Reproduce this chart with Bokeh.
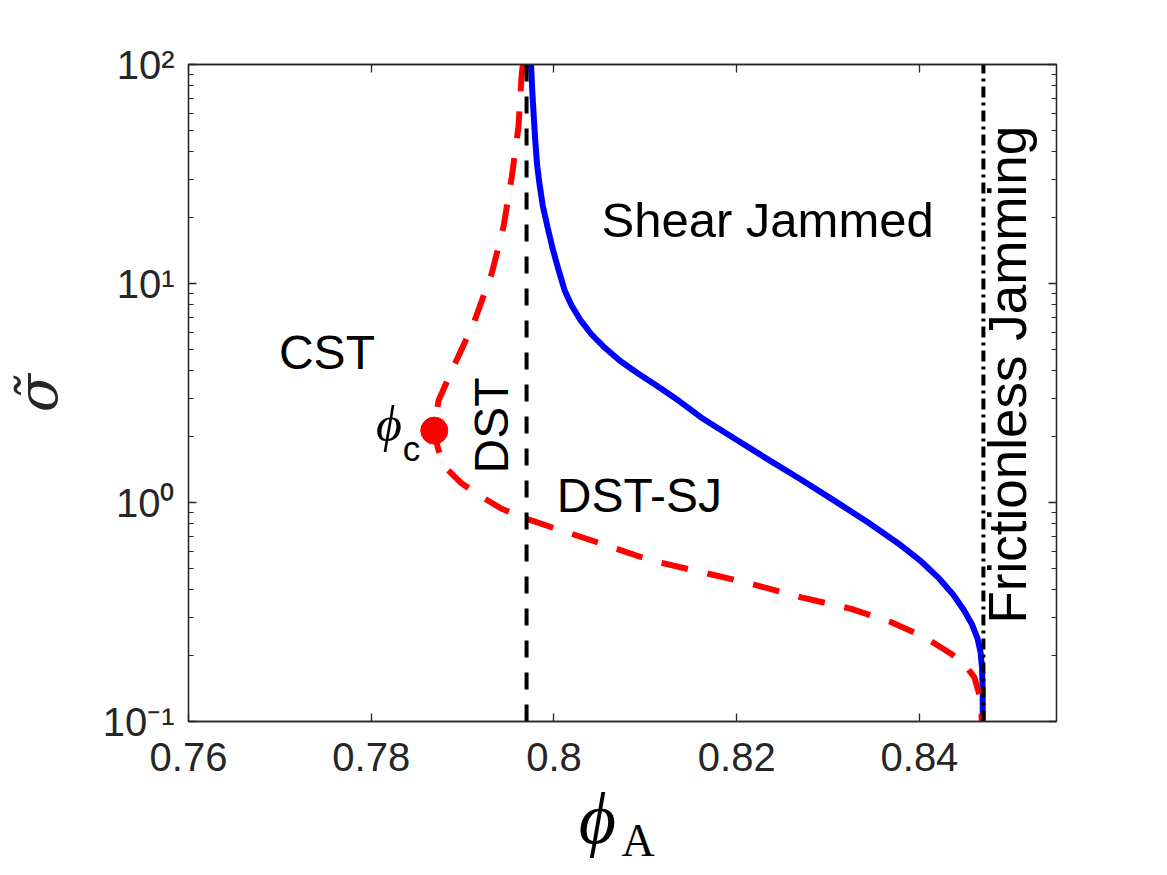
import numpy as np
from bokeh.plotting import figure
from bokeh.models import Range1d, FixedTicker, LinearAxis, LogAxis, Label
from bokeh.embed import file_html
from bokeh.resources import INLINE

# ---- data ----
# Shear-jamming boundary (solid blue)
sj_phi = [0.79749, 0.79762, 0.79778, 0.79795, 0.79816, 0.79844, 0.79877, 0.79931,
          0.79986, 0.80051, 0.80117, 0.80193, 0.80292, 0.80412, 0.80554, 0.80718,
          0.80904, 0.81122, 0.81363, 0.81614, 0.81975, 0.82346, 0.82707, 0.83068,
          0.83439, 0.83800, 0.84019, 0.84215, 0.84368, 0.84489, 0.84576, 0.84636,
          0.84669, 0.84685, 0.84692, 0.84693]
sj_sigma = [100, 76.1, 58.5, 45.0, 34.6, 28.0, 22.7, 18.0,
            14.4, 11.5, 9.29, 7.93, 6.78, 5.85, 5.10, 4.45,
            3.92, 3.42, 2.92, 2.44, 1.96, 1.57, 1.27, 1.02,
            0.810, 0.636, 0.538, 0.450, 0.380, 0.321, 0.277, 0.239,
            0.207, 0.175, 0.138, 0.101]

# DST boundary (dashed red)
dst_phi = [0.79660, 0.79647, 0.79611, 0.79538, 0.79447, 0.79319, 0.79119, 0.78882,
           0.78737, 0.78682, 0.78737, 0.78809, 0.78991, 0.79210, 0.79428, 0.79702,
           0.79975, 0.80522, 0.81068, 0.81615, 0.82161, 0.82707, 0.83254, 0.83691,
           0.84055, 0.84346, 0.84492, 0.84601, 0.84674, 0.84682]
dst_sigma = [100, 90.7, 51.7, 30.6, 18.1, 11.1, 6.55, 4.01,
             2.92, 2.13, 1.73, 1.45, 1.22, 1.06, 0.936, 0.842,
             0.771, 0.648, 0.543, 0.481, 0.425, 0.369, 0.327, 0.284,
             0.243, 0.204, 0.183, 0.159, 0.125, 0.100]

# critical point
phi_c = [0.7869]
sigma_c = [2.13]

# vertical lines
phi_mu = [0.797, 0.797]          # frictional jamming (dashed black)
phi_0 = [0.847, 0.847]           # frictionless jamming (dash-dot black)
vert_sigma = [0.1, 100]

x_ticks = [0.76, 0.78, 0.80, 0.82, 0.84]
x_tick_labels = ["0.76", "0.78", "0.8", "0.82", "0.84"]
y_ticks = [0.1, 1, 10, 100]
y_tick_labels = ["10\u207b\u00b9", "10\u2070", "10\u00b9", "10\u00b2"]

AX = "#262626"
SANS = "Liberation Sans"
SERIF = "Liberation Serif"

p = figure(width=1167, height=875,
           x_range=Range1d(0.76, 0.855), y_range=Range1d(0.1, 100),
           y_axis_type="log", output_backend="svg", toolbar_location=None,
           min_border_left=188, min_border_right=111,
           min_border_top=64, min_border_bottom=154)
p.background_fill_color = "white"
p.border_fill_color = "white"
p.outline_line_color = AX
p.outline_line_width = 1.3
p.grid.visible = False

minor_y = [m * 10.0 ** e for e in (-1, 0, 1) for m in range(2, 10)]


def style_axis(ax):
    ax.axis_line_color = AX
    ax.axis_line_width = 1.3
    ax.major_tick_line_color = AX
    ax.minor_tick_line_color = AX
    ax.major_tick_line_width = 1.3
    ax.minor_tick_line_width = 1.0
    ax.major_tick_in = 8
    ax.major_tick_out = 0
    ax.minor_tick_in = 5
    ax.minor_tick_out = 0
    ax.major_label_text_font = SANS
    ax.major_label_text_font_size = "40px"
    ax.major_label_text_color = "#262626"


# bottom x axis
xa = p.xaxis[0]
xa.ticker = FixedTicker(ticks=x_ticks)
xa.major_label_overrides = dict(zip(x_ticks, x_tick_labels))
style_axis(xa)
xa.minor_tick_line_color = None
xa.major_label_standoff = 21

# left y axis
ya = p.yaxis[0]
ya.ticker = FixedTicker(ticks=y_ticks, minor_ticks=minor_y)
ya.major_label_overrides = dict(zip(y_ticks, y_tick_labels))
style_axis(ya)
ya.major_label_standoff = 14
ya.axis_label = "\u03c3\u0303"
ya.axis_label_text_font = "DejaVu Serif"
ya.axis_label_text_font_style = "italic"
ya.axis_label_text_font_size = "56px"
ya.axis_label_standoff = 30
ya.axis_label_text_color = "#262626"

# top and right axes (ticks only, box style)
top = LinearAxis(ticker=FixedTicker(ticks=x_ticks),
                 major_label_overrides={t: "" for t in x_ticks})
style_axis(top)
top.minor_tick_line_color = None
p.add_layout(top, "above")

right = LogAxis(ticker=FixedTicker(ticks=y_ticks, minor_ticks=minor_y),
                major_label_overrides={t: "" for t in y_ticks})
style_axis(right)
p.add_layout(right, "right")

# ---- curves ----
p.line(sj_phi, sj_sigma, line_color="#0000ff", line_width=6)
p.line(dst_phi, dst_sigma, line_color="#ff0000", line_width=6, line_dash="27 20")
p.line(phi_mu, vert_sigma, line_color="black", line_width=4, line_dash="17 15")
p.line(phi_0, vert_sigma, line_color="black", line_width=4, line_dash="11 5 3 5")
p.scatter(phi_c, sigma_c, size=27, fill_color="#ff0000", line_color="#ff0000")

# ---- region annotations ----
def lab(x, y, text, size="48px", angle=0.0, font=SANS, style="normal", align="left",
        baseline="middle", **kw):
    return Label(x=x, y=y, text=text, text_font=font, text_font_size=size,
                 text_font_style=style, angle=angle, text_align=align,
                 text_baseline=baseline, text_color="black", **kw)

p.add_layout(lab(0.8052, 19.5, "Shear Jammed", size="49px"))
p.add_layout(lab(0.7699, 4.82, "CST"))
p.add_layout(lab(0.8003, 1.082, "DST-SJ"))
p.add_layout(lab(0.79319, 1.356, "DST", angle=np.pi / 2))
p.add_layout(lab(0.8496, 0.280, "Frictionless Jamming", size="53px", angle=np.pi / 2))
p.add_layout(lab(0.78336, 2.29, "\u03d5", size="50px", font=SERIF,
                 style="italic", align="right"))
p.add_layout(lab(0.78345, 1.765, "c", size="35px"))

# x-axis label  phi_A  (placed in the right side panel, screen units)
p.add_layout(lab(-459, -97, "\u03d5", size="72px", font=SERIF,
                 style="italic", align="center",
                 x_units="screen", y_units="screen"), "right")
p.add_layout(lab(-472, -119, "A", size="46px", font=SERIF,
                 x_units="screen", y_units="screen"), "right")

open("out.html", "w").write(file_html(p, INLINE))
